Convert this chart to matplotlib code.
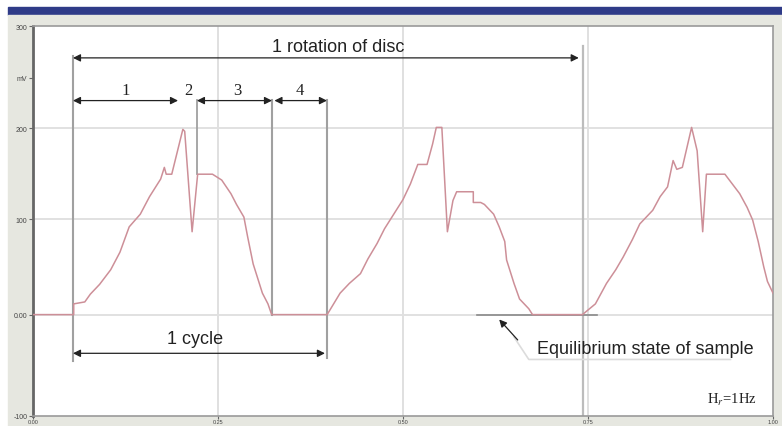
import numpy as np
import matplotlib.pyplot as plt
from matplotlib.patches import Rectangle

plt.rcParams["font.family"] = ["Liberation Sans", "DejaVu Sans"]
plt.rcParams["mathtext.fontset"] = "stix"

# response trace (time in grid units, signal in arbitrary units)
t_cycle1 = [0.00, 0.22, 0.22, 0.28, 0.31, 0.36, 0.42, 0.47, 0.52, 0.58, 0.63, 0.69, 0.70, 0.71,
            0.72, 0.75, 0.81, 0.82, 0.86, 0.89, 0.97, 1.02, 1.07, 1.10, 1.14, 1.16, 1.19, 1.22,
            1.24, 1.27, 1.29, 1.59]
y_cycle1 = [1.04, 1.04, 1.15, 1.17, 1.25, 1.35, 1.50, 1.68, 1.94, 2.07, 2.25, 2.43, 2.49, 2.55,
            2.48, 2.48, 2.94, 2.92, 1.89, 2.48, 2.48, 2.42, 2.28, 2.17, 2.04, 1.84, 1.56, 1.38,
            1.26, 1.15, 1.04, 1.04]
t_cycle2 = [1.59, 1.66, 1.71, 1.77, 1.81, 1.86, 1.90, 1.95, 2.00, 2.04, 2.08, 2.13, 2.16, 2.18,
            2.21, 2.24, 2.27, 2.29, 2.38, 2.38, 2.42, 2.44, 2.49, 2.52, 2.55, 2.56, 2.60, 2.63,
            2.68, 2.70, 2.97]
y_cycle2 = [1.15, 1.26, 1.36, 1.46, 1.61, 1.77, 1.92, 2.07, 2.22, 2.38, 2.58, 2.58, 2.79, 2.96,
            2.96, 1.89, 2.21, 2.30, 2.30, 2.19, 2.19, 2.17, 2.07, 1.94, 1.79, 1.60, 1.36, 1.20,
            1.10, 1.04, 1.04]
t_cycle3 = [2.97, 3.04, 3.10, 3.15, 3.19, 3.24, 3.28, 3.35, 3.39, 3.43, 3.46, 3.48, 3.51, 3.56,
            3.59, 3.62, 3.64, 3.74, 3.78, 3.82, 3.86, 3.89, 3.92, 3.95, 3.97, 4.00]
y_cycle3 = [1.14, 1.15, 1.36, 1.50, 1.63, 1.81, 1.97, 2.11, 2.25, 2.35, 2.62, 2.53, 2.55, 2.96,
            2.72, 1.89, 2.48, 2.48, 2.38, 2.28, 2.14, 2.01, 1.79, 1.53, 1.38, 1.26]

x_ticks = [0, 1, 2, 3, 4]
x_labels = ["0.00", "0.25", "0.50", "0.75", "1.00"]
y_ticks = [0.0, 1.04, 2.02, 2.95, 3.47, 4.0]
y_labels = ["-100", "0.00", "100", "200", "mV", "300"]
grid_y = [1.04, 2.02, 2.95]
grid_x = [1, 2, 3]

t = t_cycle1 + t_cycle2[1:] + t_cycle3[1:]
y = y_cycle1 + y_cycle2[1:] + y_cycle3[1:]

fig = plt.figure(figsize=(7.82, 4.27), dpi=100)
# window chrome: title bar and gray side panel
fig.patches.append(Rectangle((8 / 782, 411 / 427), 774 / 782, 8 / 427, transform=fig.transFigure,
                             color="#2f3b88", zorder=-10))
fig.patches.append(Rectangle((8 / 782, 0), 774 / 782, 411 / 427, transform=fig.transFigure,
                             color="#e6e7e0", zorder=-10))

ax = fig.add_axes([33 / 782, 10 / 427, 740 / 782, 390 / 427])
ax.set_zorder(1)
ax.set_facecolor("white")
ax.set_xlim(0, 4)
ax.set_ylim(0, 4)

for gy in grid_y:
    ax.axhline(gy, color="#dcdcdc", lw=1.2, zorder=1)
for gx in grid_x:
    ax.axvline(gx, color="#e0e0e0", lw=1.4, zorder=1)

ax.plot(t, y, color="#cd8f98", lw=1.1, zorder=3)

# annotation guide lines
gray = "#a0a0a0"
ax.plot([0.216, 0.216], [0.56, 3.69], color=gray, lw=1.5, zorder=2)
ax.plot([0.886, 0.886], [2.48, 3.24], color=gray, lw=1.3, zorder=2)
ax.plot([1.292, 1.292], [1.04, 3.24], color=gray, lw=1.5, zorder=2)
ax.plot([1.589, 1.589], [0.60, 3.24], color=gray, lw=1.5, zorder=2)
ax.plot([2.975, 2.975], [0.0, 3.80], color="#bcbcbc", lw=1.6, zorder=2)
ax.plot([2.40, 3.05], [1.04, 1.04], color="#8a8a8a", lw=1.2, zorder=2)


def dim_arrow(x0, x1, yy, style="<|-|>"):
    ax.annotate("", xy=(x1, yy), xytext=(x0, yy),
                arrowprops=dict(arrowstyle=style, color="#222222", lw=0.9,
                                mutation_scale=11, shrinkA=0, shrinkB=0), zorder=4)


dim_arrow(0.216, 2.95, 3.673)
dim_arrow(0.216, 0.784, 3.235)
dim_arrow(0.886, 1.292, 3.235)
dim_arrow(1.305, 1.589, 3.235)
dim_arrow(0.216, 1.578, 0.643)

ax.text(1.65, 3.79, "1 rotation of disc", fontsize=13, ha="center", va="center", color="#222222")
for lab, xx in zip(["1", "2", "3", "4"], [0.503, 0.838, 1.103, 1.443]):
    ax.text(xx, 3.34, lab, fontsize=12, ha="center", va="center",
            family="Liberation Serif", color="#222222")
ax.text(0.876, 0.79, "1 cycle", fontsize=13, ha="center", va="center", color="#222222")

# equilibrium callout
ax.plot([2.60, 2.68, 3.77], [0.81, 0.58, 0.58], color="#dcdcdc", lw=1.2, zorder=2)
ax.annotate("", xy=(2.52, 0.99), xytext=(2.62, 0.78),
            arrowprops=dict(arrowstyle="-|>", color="#222222", lw=0.9, mutation_scale=11,
                            shrinkA=0, shrinkB=0), zorder=4)
ax.text(3.31, 0.69, "Equilibrium state of sample", fontsize=13, ha="center", va="center",
        color="#222222")
ax.text(3.91, 0.18, r"H$_r$=1Hz", fontsize=10.5, ha="right", va="center",
        family="Liberation Serif", color="#222222")

ax.set_xticks(x_ticks)
ax.set_xticklabels(x_labels, fontsize=4, color="#444444")
ax.set_yticks(y_ticks)
ax.set_yticklabels(y_labels, fontsize=5, color="#444444")
ax.tick_params(axis="x", length=2, width=0.8, color="#666666", pad=0.5)
ax.tick_params(axis="y", length=3, width=0.8, color="#666666", pad=1)
for side in ["top", "right", "bottom"]:
    ax.spines[side].set_color("#9a9a9a")
    ax.spines[side].set_linewidth(1.2)
ax.spines["left"].set_color("#666666")
ax.spines["left"].set_linewidth(2)

fig.savefig("out.png", dpi=100)
